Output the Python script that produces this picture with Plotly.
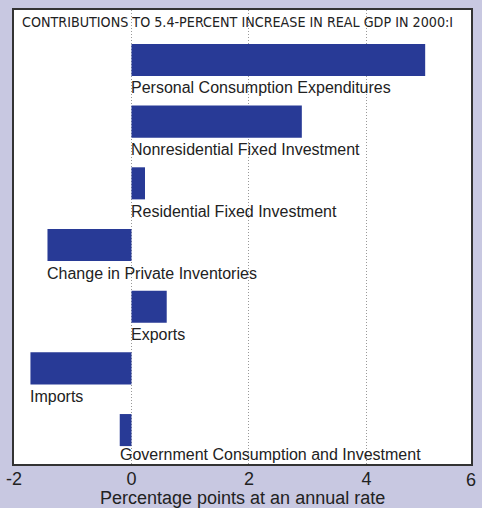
import plotly.graph_objects as go

categories = [
    "Personal Consumption Expenditures",
    "Nonresidential Fixed Investment",
    "Residential Fixed Investment",
    "Change in Private Inventories",
    "Exports",
    "Imports",
    "Government Consumption and Investment",
]
values = [5.0, 2.9, 0.23, -1.43, 0.6, -1.72, -0.2]
tick_vals = [-2, 0, 2, 4]
tick_text = ["-2", "0", "2", "4"]
right_tick_label = "6"
title_text = "CONTRIBUTIONS TO 5.4-PERCENT INCREASE IN REAL GDP IN 2000:I"
x_title = "Percentage points at an annual rate"

BG = "#C8C8E1"
BAR = "#283A96"
TXT = "#222222"
FONT = "Liberation Sans, Arial, sans-serif"

fig = go.Figure()
fig.add_trace(go.Bar(
    x=values, y=categories, orientation="h",
    marker=dict(color=BAR, line=dict(width=0)),
    width=0.52, hoverinfo="skip",
))

annotations = []
n = len(categories)
for i, (c, v) in enumerate(zip(categories, values)):
    annotations.append(dict(
        x=min(0, v), y=c, xref="x", yref="y", text=c,
        xanchor="left", yanchor="middle",
        yshift=-24 if i == n - 1 else -28, xshift=-2, showarrow=False,
        font=dict(family=FONT, size=16, color=TXT),
    ))
annotations.append(dict(
    x=0.013, y=0.974, xref="paper", yref="paper", text=title_text,
    xanchor="left", yanchor="middle", showarrow=False,
    font=dict(family="DejaVu Sans Condensed, Liberation Sans, sans-serif", size=14.2, color=TXT),
))
annotations.append(dict(
    x=1, y=0, xref="paper", yref="paper", text=right_tick_label,
    xanchor="center", yanchor="top", yshift=-4, showarrow=False,
    font=dict(family=FONT, size=18, color=TXT),
))
annotations.append(dict(
    x=0.5, y=0, xref="paper", yref="paper", text=x_title,
    xanchor="center", yanchor="middle", yshift=-34, showarrow=False,
    font=dict(family=FONT, size=18, color=TXT),
))

fig.update_layout(
    width=482, height=508,
    margin=dict(l=14, r=11, t=10, b=44),
    paper_bgcolor=BG, plot_bgcolor="white",
    showlegend=False,
    annotations=annotations,
    xaxis=dict(
        range=[-2, 5.78], tickvals=tick_vals, ticktext=tick_text,
        showgrid=True, gridcolor="#999999", griddash="1px,2px", gridwidth=1,
        zeroline=False, ticks="", tickfont=dict(family=FONT, size=18, color=TXT),
        ticklabelstandoff=-3,
        showline=True, linecolor="#333333", linewidth=2, mirror=True,
        automargin=False,
    ),
    yaxis=dict(
        categoryorder="array", categoryarray=categories,
        range=[6.55, -0.81], showticklabels=False, showgrid=False,
        zeroline=False, ticks="", automargin=False,
        showline=True, linecolor="#333333", linewidth=2, mirror=True,
    ),
)

fig.write_html("out.html", post_script="document.body.style.margin='0';",
               config={"displayModeBar": False})
